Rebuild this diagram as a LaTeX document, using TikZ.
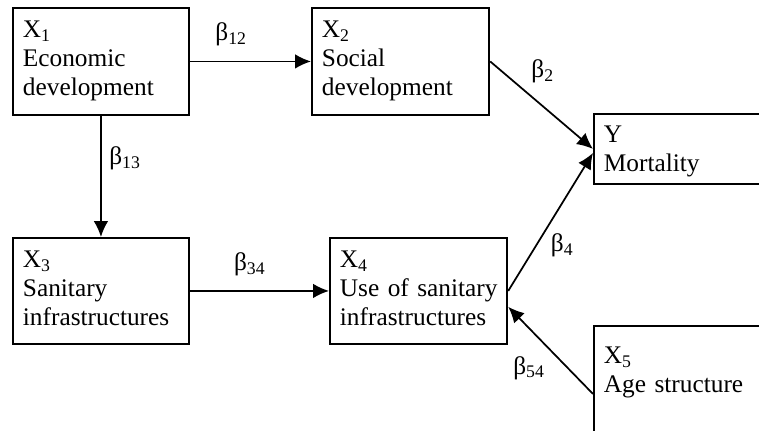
\documentclass[tikz,border=0pt]{standalone}
\usepackage{fontspec}
\setmainfont{Liberation Serif}
\usepackage{tikz}
\usetikzlibrary{arrows.meta, positioning}
\tikzset{
    varBox/.style={draw, rectangle, line width=1.4pt, anchor=north west, inner xsep=7.5pt, inner ysep=0pt, align=left, font=\fontsize{19}{21.4}\selectfont},
    pathEdge/.style={->, >={Latex[length=12pt, width=11pt]}, line width=1.3pt},
    coefLabel/.style={font=\fontsize{19}{21.4}\selectfont, inner sep=1pt},
}
% path with its coefficient
\newcommand{\drawCoef}[4]{
    \draw[pathEdge] (#1) -- node[coefLabel, #3] {#4} (#2);
}

\begin{document}
\begin{tikzpicture}[x=0.75pt, y=-0.75pt]
        \clip (0,0) rectangle (759,430);

        \node[varBox, text width=117pt, text height=22.5pt, text depth=57.75pt] (X1) at (12,7) {X\textsubscript{1}\\Economic\\development};
        \node[varBox, text width=118pt, text height=22.5pt, text depth=57.75pt] (X2) at (311,7) {X\textsubscript{2}\\Social\\development};
        \node[varBox, text width=117pt, text height=22.5pt, text depth=57pt] (X3) at (12,237) {X\textsubscript{3}\\Sanitary\\infrastructures};
        \node[varBox, text width=118pt, text height=22.5pt, text depth=57pt] (X4) at (329,237) {X\textsubscript{4}\\\mbox{Use of sanitary}\\infrastructures};
        \node[varBox, text width=150pt, text height=21.75pt, text depth=30.75pt] (Y) at (593,113) {Y\\Mortality};
        \node[varBox, text width=150pt, text height=28.5pt, text depth=73.5pt] (X5) at (593,325) {X\textsubscript{5}\\Age structure};

        \drawCoef{X1}{X2}{pos=0.34, yshift=20pt}{β\textsubscript{12}}
        \drawCoef{X1}{X3}{pos=0.35, xshift=18pt}{β\textsubscript{13}}
        \drawCoef{X3}{X4}{pos=0.43, yshift=20pt}{β\textsubscript{34}}
        \drawCoef{X2.east}{Y.west}{pos=0.51, yshift=26pt}{β\textsubscript{2}}
        \drawCoef{X4.east}{[yshift=-3pt]Y.west}{pos=0.33, xshift=19.5pt}{β\textsubscript{4}}
        \drawCoef{X5.west}{X4.-10}{pos=0.30, xshift=-29pt}{β\textsubscript{54}}

    \end{tikzpicture}
\end{document}
